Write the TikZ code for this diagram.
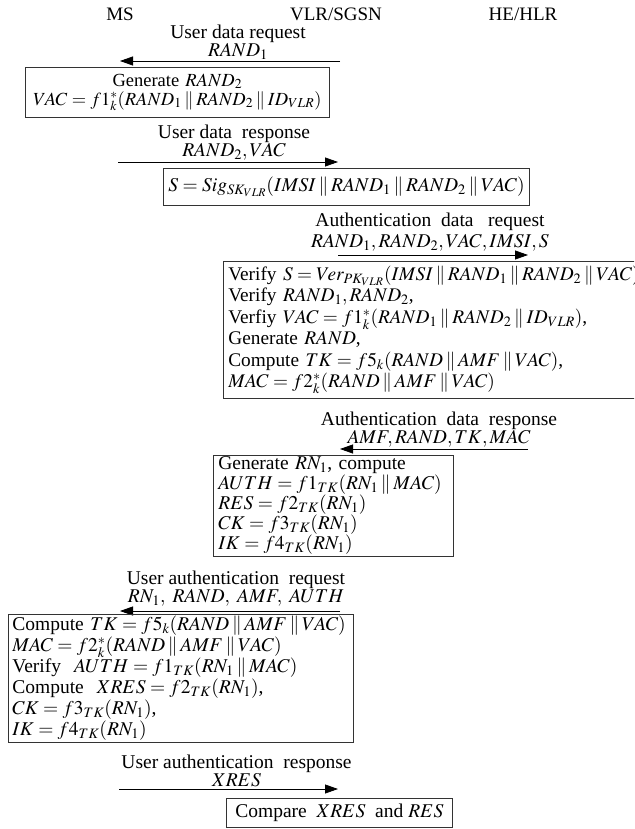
\documentclass[tikz,border=0pt]{standalone}
\usepackage{mathptmx}
\usepackage{fontspec}
\setmainfont{Liberation Serif}
\usepackage{tikz}
\usetikzlibrary{arrows.meta,positioning}
\newcommand{\cat}{\mathbin{\|}}

\tikzset{
  hdr/.style={font=\fontsize{19}{21}\selectfont},
  msg/.style={font=\fontsize{19.5}{18.5}\selectfont, align=center, inner sep=0pt},
  stepbox/.style={draw=black!80, line width=0.7pt, inner xsep=5pt, inner ysep=0pt,
                  anchor=north west, font=\fontsize{19.5}{21}\selectfont},
  sig/.style={line width=0.8pt, -{Triangle[length=13pt,width=9pt]}}
}

\begin{document}
\begin{tikzpicture}[x=1pt,y=-1pt]
        \useasboundingbox (0,0) rectangle (634,829);
        \clip (0,0) rectangle (634,829);

        % Parties
        \node[hdr] (ms)  at (120,14) {MS};
        \node[hdr] (vlr) at (336,14) {VLR/SGSN};
        \node[hdr] (hlr) at (523,14) {HE/HLR};

        % Message end points
        \coordinate (m1a) at (340,61);  \coordinate (m1b) at (120,61);
        \coordinate (m2a) at (118,162); \coordinate (m2b) at (338,162);
        \coordinate (m3a) at (338,255); \coordinate (m3b) at (528,255);
        \coordinate (m4a) at (528,449); \coordinate (m4b) at (340,449);
        \coordinate (m5a) at (340,611); \coordinate (m5b) at (120,611);
        \coordinate (m6a) at (119,789); \coordinate (m6b) at (338,789);

        % User data request
        \draw[sig] (m1a) -- (m1b)
          node[msg,midway,above=1pt,xshift=8pt] (req1) {User data request\\$RAND_1$};

        \node[stepbox,minimum width=304,minimum height=50,inner xsep=2pt,text width=300,
              align=center,font=\fontsize{18.5}{19}\selectfont]
          (msgen) at (25,67) {Generate $RAND_2$\hspace*{28pt}\\
          $VAC = f1^*_k(RAND_1 \cat RAND_2 \cat ID_{VLR})$};

        % User data response
        \draw[sig] (m2a) -- (m2b)
          node[msg,midway,above=1pt,xshift=6pt] (resp1) {User data\ \ response\\$RAND_2, VAC$};

        \node[stepbox,minimum width=365,minimum height=37]
          (vlrsig) at (163,168) {$S = Sig_{SK_{VLR}}(IMSI \cat RAND_1 \cat RAND_2 \cat VAC)$};

        % Authentication data request
        \draw[sig] (m3a) -- (m3b)
          node[msg,midway,above=3pt,xshift=-3pt,font=\fontsize{19.5}{21}\selectfont] (req2)
          {Authentication\ \ data\ \ \ request\\$RAND_1, RAND_2, VAC, IMSI, S$};

        \node[stepbox,minimum width=425,minimum height=137,text width=415,align=left,
              font=\fontsize{19.3}{21.5}\selectfont]
          (hlrchk) at (223,261) {Verify $S = Ver_{PK_{VLR}}(IMSI \cat RAND_1 \cat RAND_2 \cat VAC)$\\
          Verify $RAND_1, RAND_2$,\\
          Verfiy $VAC = f1^*_k(RAND_1 \cat RAND_2 \cat ID_{VLR})$,\\
          Generate\ $RAND$,\\
          Compute $TK = f5_k(RAND \cat AMF \cat VAC)$,\\
          $MAC = f2^*_k(RAND \cat AMF \cat VAC)$};

        % Authentication data response
        \draw[sig] (m4a) -- (m4b)
          node[msg,midway,above=1pt,xshift=5pt] (resp2) {Authentication\ \ data\ \ response\\$AMF, RAND, TK, MAC$};

        \node[stepbox,minimum width=240,minimum height=101,text width=230,align=left,
              font=\fontsize{19.5}{20}\selectfont]
          (vlrgen) at (213,455) {Generate\ $RN_1$, compute\\
          $AUTH = f1_{TK}(RN_1 \cat MAC)$\\
          $RES = f2_{TK}(RN_1)$\\
          $CK = f3_{TK}(RN_1)$\\
          $IK = f4_{TK}(RN_1)$};

        % User authentication request
        \draw[sig] (m5a) -- (m5b)
          node[msg,midway,above=4pt,xshift=6pt,font=\fontsize{19.5}{16.5}\selectfont] (req3)
          {User authentication\ \ request\\$RN_1,\ RAND,\ AMF,\ AUTH$};

        \node[stepbox,minimum width=345,minimum height=128,text width=337,inner xsep=4pt,align=left]
          (mschk) at (8,614) {Compute $TK = f5_k(RAND \cat AMF \cat VAC)$\\
          $MAC = f2^*_k(RAND \cat AMF \cat VAC)$\\
          Verify\ \ $AUTH = f1_{TK}(RN_1 \cat MAC)$\\
          Compute\ \ $XRES = f2_{TK}(RN_1)$,\\
          $CK = f3_{TK}(RN_1)$,\\
          $IK = f4_{TK}(RN_1)$};

        % User authentication response
        \draw[sig] (m6a) -- (m6b)
          node[msg,midway,above=2pt,xshift=8pt,font=\fontsize{19.5}{16.5}\selectfont] (resp3)
          {User authentication\ \ response\\$XRES$};

        \node[stepbox,minimum height=29,inner xsep=9pt]
          (cmp) at (226,798) {Compare\ \ $XRES$\ \ and\ $RES$};
      \end{tikzpicture}
\end{document}
